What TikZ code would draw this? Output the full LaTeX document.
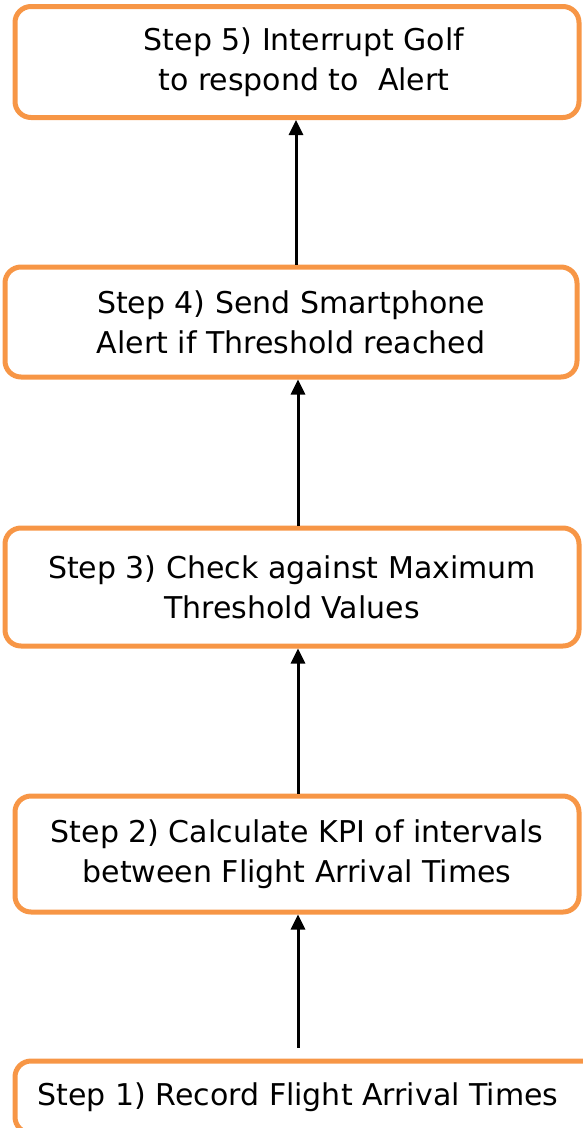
\documentclass[tikz,border=0pt]{standalone}
\usepackage{fontspec}
\setmainfont{DejaVu Sans}
\usepackage{tikz}
\usetikzlibrary{arrows.meta,positioning}
\definecolor{boxorange}{HTML}{F79646}

\begin{document}
\begin{tikzpicture}[x=1pt,y=-1pt,
  stepbox/.style={draw=boxorange,line width=5pt,rounded corners=16pt,inner sep=0pt,align=center,font=\fontsize{30}{40}\selectfont},
  flow/.style={-{Triangle[length=15pt,width=14pt]},line width=3pt,black}]
\useasboundingbox (0,0) rectangle (582,1128);
\node[stepbox,minimum width=564pt,minimum height=111pt] (s5) at (297,62) {\hspace*{14pt}Step 5) Interrupt Golf\\\hspace*{14pt}to respond to\ \ Alert};
\node[stepbox,minimum width=572pt,minimum height=110pt] (s4) at (291,322) {Step 4) Send Smartphone\\Alert if Threshold reached};
\node[stepbox,minimum width=574pt,minimum height=118pt] (s3) at (292,587) {Step 3) Check against Maximum\\Threshold Values};
\node[stepbox,minimum width=564pt,minimum height=116pt] (s2) at (297,854) {Step 2) Calculate KPI of intervals\\between Flight Arrival Times};
\node[stepbox,minimum width=590pt,minimum height=72pt] (s1) at (310,1097) {\hspace*{-24pt}Step 1) Record Flight Arrival Times};
\draw[flow,shorten <=11pt] ([xshift=-12pt]s1.north) -- ([xshift=1pt]s2.south);
\draw[flow] ([xshift=1pt]s2.north) -- ([xshift=6pt]s3.south);
\draw[flow] ([xshift=6pt]s3.north) -- ([xshift=7pt]s4.south);
\draw[flow] ([xshift=5pt]s4.north) -- ([xshift=-1pt]s5.south);
\end{tikzpicture}
\end{document}
